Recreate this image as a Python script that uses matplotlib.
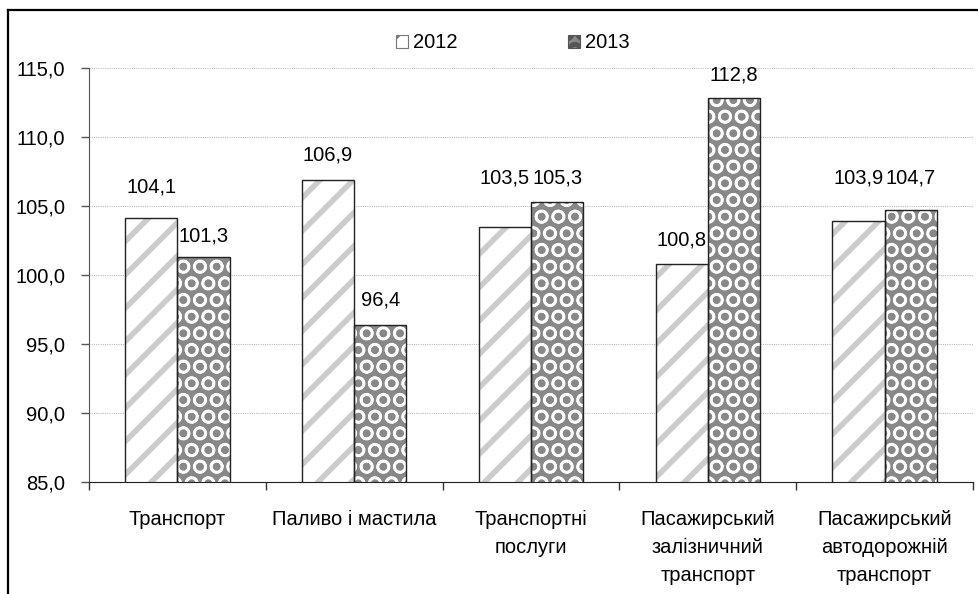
import numpy as np
import matplotlib.pyplot as plt
from matplotlib.lines import Line2D
from matplotlib.patches import Patch

plt.rcParams["font.family"] = ["Liberation Sans", "DejaVu Sans"]
plt.rcParams["hatch.linewidth"] = 3.0

# ── Data ──────────────────────────────────────────────────────────────────────
categories = ["Транспорт", "Паливо і мастила", "Транспортні\nпослуги",
              "Пасажирський\nзалізничний\nтранспорт",
              "Пасажирський\nавтодорожній\nтранспорт"]
vals_2012 = [104.1, 106.9, 103.5, 100.8, 103.9]
vals_2013 = [101.3, 96.4, 105.3, 112.8, 104.7]
years = ["2012", "2013"]

# label offsets above bar tops (pixels, hand-placed like in the source chart)
off_2012 = [31, 25, 49, 24, 43]
off_2013 = [21, 25, 24, 23, 32]

FS = 14.5
x = np.arange(len(categories))
w = 0.295

STY_12 = dict(facecolor="white", edgecolor="#cccccc", hatch="/")
STY_13 = dict(facecolor="#888888", edgecolor="white", hatch="O")


def set_hlw(bars, lw):
    for p in bars:
        if hasattr(p, "set_hatch_linewidth"):
            p.set_hatch_linewidth(lw)


fig = plt.figure(figsize=(9.79, 5.94), dpi=100)
ax = fig.add_axes([89 / 979, 1 - 482 / 594, (973 - 89) / 979, (482 - 68) / 594])

# 2012: white with light gray diagonal stripes
b1 = ax.bar(x - w / 2, vals_2012, w, linewidth=0, zorder=2, **STY_12)
set_hlw(b1, 4.0)
ax.bar(x - w / 2, vals_2012, w, fill=False, edgecolor="#222222",
       linewidth=1.0, zorder=3)
# 2013: dark gray with white round pattern
b2 = ax.bar(x + w / 2, vals_2013, w, linewidth=0, zorder=2, **STY_13)
set_hlw(b2, 1.8)
ax.bar(x + w / 2, vals_2013, w, fill=False, edgecolor="#222222",
       linewidth=1.0, zorder=3)

for xi, v, o in zip(x - w / 2, vals_2012, off_2012):
    ax.annotate(f"{v:.1f}".replace(".", ","), (xi, v), xytext=(0, o * 0.72),
                textcoords="offset points", ha="center", va="center", fontsize=FS)
for xi, v, o in zip(x + w / 2, vals_2013, off_2013):
    ax.annotate(f"{v:.1f}".replace(".", ","), (xi, v), xytext=(0, o * 0.72),
                textcoords="offset points", ha="center", va="center", fontsize=FS)

# ── Axes ──────────────────────────────────────────────────────────────────────
ax.set_ylim(85, 115)
ax.set_xlim(-0.5, len(categories) - 0.5)
ax.set_yticks(np.arange(85, 116, 5))
ax.set_yticklabels([f"{t:.1f}".replace(".", ",") for t in np.arange(85, 116, 5)],
                   fontsize=FS)
ax.yaxis.grid(True, color="#bbbbbb", linestyle=(0, (1, 1)), linewidth=0.8)
ax.set_axisbelow(True)
ax.tick_params(axis="y", length=6, width=1, color="#555555", pad=11)

ax.set_xticks(x)
ax.set_xticklabels(categories, fontsize=FS, linespacing=1.6)
ax.tick_params(axis="x", length=0, pad=20)
ax.set_xticks(np.arange(len(categories) + 1) - 0.5, minor=True)
ax.tick_params(axis="x", which="minor", length=6, width=1, color="#333333")

for s in ["top", "right"]:
    ax.spines[s].set_visible(False)
ax.spines["left"].set_color("#555555")
ax.spines["bottom"].set_color("#222222")

h1 = Patch(linewidth=0.8, **{**STY_12, "edgecolor": "#777777"})
h2 = Patch(linewidth=0.8, **{**STY_13, "edgecolor": "#555555"})
fig.legend([h1, h2], years, loc="center", bbox_to_anchor=(513 / 979, 1 - 43 / 594),
           ncol=2, frameon=False, fontsize=FS, handlelength=0.6,
           handleheight=0.6, handletextpad=0.25, columnspacing=5.5)

# outer frame (left and top edges)
fig.add_artist(Line2D([8 / 979, 8 / 979], [0, 1 - 10 / 594], color="black",
                      linewidth=1.6, transform=fig.transFigure))
fig.add_artist(Line2D([8 / 979, 1], [1 - 10 / 594, 1 - 10 / 594], color="black",
                      linewidth=1.6, transform=fig.transFigure))

fig.savefig("out.png", dpi=100, facecolor="white")
